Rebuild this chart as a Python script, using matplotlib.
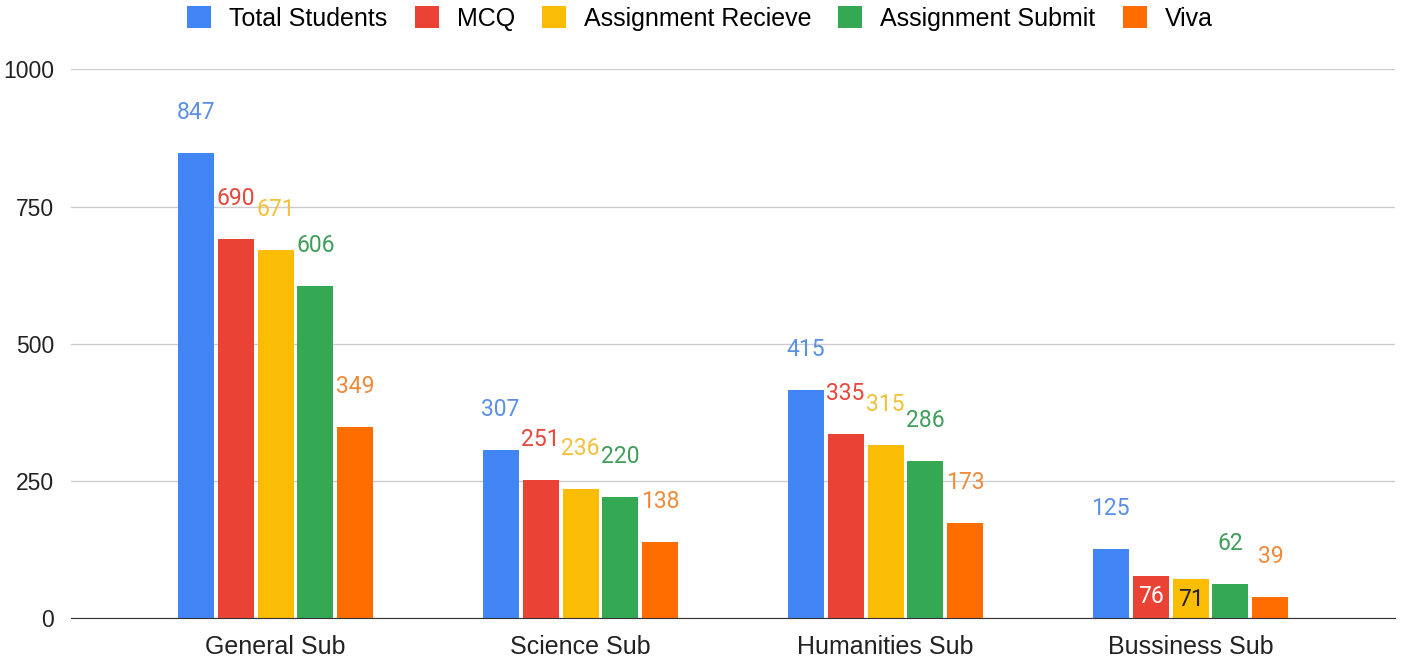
import numpy as np
import matplotlib
matplotlib.use("Agg")
import matplotlib.pyplot as plt

plt.rcParams["font.family"] = ["Liberation Sans", "DejaVu Sans"]

categories = ["General Sub", "Science Sub", "Humanities Sub", "Bussiness Sub"]
series_names = ["Total Students", "MCQ", "Assignment Recieve", "Assignment Submit", "Viva"]
total_students = [847, 307, 415, 125]
mcq = [690, 251, 335, 76]
assignment_recieve = [671, 236, 315, 71]
assignment_submit = [606, 220, 286, 62]
viva = [349, 138, 173, 39]
colors = ["#4285F4", "#EA4335", "#FBBC04", "#34A853", "#FF6D01"]
label_colors = ["#5B8FE6", "#E5473A", "#F2C13A", "#3E9E5A", "#F08A3A"]

series = [total_students, mcq, assignment_recieve, assignment_submit, viva]

fig, ax = plt.subplots(figsize=(14.11, 6.61), dpi=100)
fig.subplots_adjust(left=0.05, right=0.989, top=0.895, bottom=0.065)

x = np.arange(len(categories))
step = 0.131
width = 0.118
handles = []
for i, (name, vals, col) in enumerate(zip(series_names, series, colors)):
    pos = x + (i - 2) * step
    bars = ax.bar(pos, vals, width, color=col, label=name, zorder=3)
    handles.append(bars)
    for j, (b, v) in enumerate(zip(bars, vals)):
        # small bars in the last group get their labels inside
        if j == 3 and i in (1, 2):
            tc = "white" if i == 1 else "#222222"
            ax.annotate(str(v), (b.get_x() + b.get_width() / 2, v),
                        xytext=(0, -9), textcoords="offset pixels",
                        ha="center", va="top", fontsize=16.5, color=tc, zorder=4,
                        family=["Roboto", "DejaVu Sans"])
        else:
            ax.annotate(str(v), (b.get_x() + b.get_width() / 2, v),
                        xytext=(0, 29), textcoords="offset pixels",
                        ha="center", va="bottom", fontsize=16.5, color=label_colors[i],
                        zorder=4, family=["Roboto", "DejaVu Sans"])

ax.set_xlim(-0.672, 3.672)
ax.set_ylim(0, 1000)
ax.set_yticks([0, 250, 500, 750, 1000])
ax.set_xticks(x)
ax.set_xticklabels(categories)
ax.yaxis.grid(True, color="#cccccc", linewidth=1, zorder=0)
ax.tick_params(axis="both", length=0, labelcolor="#222222")
ax.tick_params(axis="x", pad=12, labelsize=18)
ax.tick_params(axis="y", pad=12, labelsize=16.5)
for s in ["top", "right", "left"]:
    ax.spines[s].set_visible(False)
ax.spines["bottom"].set_color("#333333")
ax.spines["bottom"].set_zorder(5)

fig.legend(handles, series_names, loc="center", bbox_to_anchor=(700 / 1411, 0.972),
           ncol=5, frameon=False, fontsize=18, handlelength=0.96, handleheight=0.96,
           columnspacing=1.08, handletextpad=0.72, borderpad=0)

fig.savefig("out.png", dpi=100)
